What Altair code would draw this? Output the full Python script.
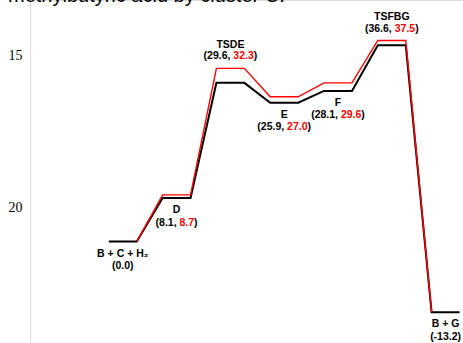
import altair as alt
import pandas as pd

# ---------------- data ----------------
states = ["B + C + H\u2082", "D", "TSDE", "E", "F", "TSFBG", "B + G"]
black_vals = [0.0, 8.1, 29.6, 25.9, 28.1, 36.6, -13.2]
red_vals = [None, 8.7, 32.3, 27.0, 29.6, 37.5, None]
label_side = ["below", "below", "above", "below", "below", "above", "below"]
black_txt = ["(0.0)", "(8.1, ", "(29.6, ", "(25.9, ", "(28.1, ", "(36.6, ", "(-13.2)"]
red_txt = ["", "8.7", "32.3", "27.0", "29.6", "37.5", ""]
close_txt = ["", ")", ")", ")", ")", ")", ""]
side_ticks = [15, 20]
title_text = "methylbutyric acid by cluster C."

# ---------------- layout ----------------
TOTAL_W, TOTAL_H = 463, 343
PAD_L = 30
PLOT_W, PLOT_H = TOTAL_W - PAD_L, TOTAL_H
PX_PER_STEP = 53.8
X0_PX = 108.8 - PAD_L
LEVEL_W = 0.52
Y0_PX = 241.5
PX_PER_KCAL = 5.36
FS = 10.5

x_dom = [-X0_PX / PX_PER_STEP, (PLOT_W - X0_PX) / PX_PER_STEP]
y_dom = [-(PLOT_H - Y0_PX) / PX_PER_KCAL, Y0_PX / PX_PER_KCAL]
xs = alt.Scale(domain=x_dom, nice=False, zero=False)
ys = alt.Scale(domain=y_dom, nice=False, zero=False)

# line paths
black_rows = []
for i, v in enumerate(black_vals):
    black_rows.append({"seq": 2 * i, "x": i, "y": v})
    black_rows.append({"seq": 2 * i + 1, "x": i + LEVEL_W, "y": v})
black_df = pd.DataFrame(black_rows)

red_rows = [{"seq": 0, "x": LEVEL_W, "y": black_vals[0]}]
for i, v in enumerate(red_vals):
    if v is None:
        continue
    red_rows.append({"seq": len(red_rows), "x": i, "y": v})
    red_rows.append({"seq": len(red_rows), "x": i + LEVEL_W, "y": v})
red_rows.append({"seq": len(red_rows), "x": len(black_vals) - 1, "y": black_vals[-1]})
red_df = pd.DataFrame(red_rows)

# text widths (Arial/Liberation metrics, em units)
MET = {c: 0.556 for c in "0123456789"}
MET.update({"(": 0.333, ")": 0.333, ".": 0.278, ",": 0.278, " ": 0.278, "-": 0.333})


def tw(s):
    return sum(MET.get(c, 0.556) for c in s) * FS / PX_PER_STEP


name_rows, part_rows = [], []
for i, st in enumerate(states):
    side = label_side[i]
    anchor = black_vals[i] if side == "below" or red_vals[i] is None else red_vals[i]
    cx = i + LEVEL_W / 2
    name_rows.append({"name": st, "x": cx, "y": anchor, "side": side})
    parts = [(black_txt[i], "black"), (red_txt[i], "#ff0000"), (close_txt[i], "black")]
    total = sum(tw(p) for p, _ in parts)
    left = cx - total / 2
    for p, col in parts:
        if p:
            part_rows.append({"t": p, "col": col, "x": left, "y": anchor, "side": side})
        left += tw(p)
name_df = pd.DataFrame(name_rows)
part_df = pd.DataFrame(part_rows)

X = alt.X("x:Q", scale=xs, axis=None)
Y = alt.Y("y:Q", scale=ys, axis=None)

black_line = alt.Chart(black_df).mark_line(color="black", strokeWidth=2, clip=False).encode(
    x=X, y=Y, order="seq:Q")
red_line = alt.Chart(red_df).mark_line(color="#ff0000", strokeWidth=1.4, clip=False).encode(
    x=X, y=Y, order="seq:Q")

font = "Liberation Sans"


def names(side, dy):
    return alt.Chart(name_df).transform_filter(alt.datum.side == side).mark_text(
        font=font, fontSize=FS, fontWeight="bold", align="center", baseline="middle",
        dy=dy, color="black").encode(x=X, y=Y, text="name:N")


def parts(side, dy):
    return alt.Chart(part_df).transform_filter(alt.datum.side == side).mark_text(
        font=font, fontSize=FS, fontWeight="bold", align="left", baseline="middle",
        dy=dy).encode(x=X, y=Y, text="t:N", color=alt.Color("col:N", scale=None))


tick_df = pd.DataFrame({"tick": side_ticks})
side_axis = alt.Chart(tick_df).mark_point(opacity=0).encode(
    y=alt.Y("tick:Q", scale=alt.Scale(domain=[13.158, 24.441], reverse=True, nice=False, zero=False),
            axis=alt.Axis(orient="left", values=side_ticks, ticks=False, domain=False, grid=False,
                          labelFont="Liberation Serif", labelFontWeight="normal", labelFontSize=14,
                          labelPadding=8, labelColor="black", title=None)))

chart = alt.layer(
    black_line, red_line,
    names("below", 12), names("above", -23.5),
    parts("below", 24.5), parts("above", -12),
    side_axis,
).resolve_scale(y="independent").properties(
    width=PLOT_W, height=PLOT_H,
    autosize=alt.AutoSizeParams(type="none"),
    padding={"left": PAD_L, "top": 0, "right": 0, "bottom": 0},
    title=alt.TitleParams(title_text, anchor="start", fontSize=20, font=font,
                          fontWeight="normal", color="black", offset=-6),
).configure_view(stroke=None).configure(background="white")

chart.save("out.html", embed_options={"renderer": "svg", "actions": False})
